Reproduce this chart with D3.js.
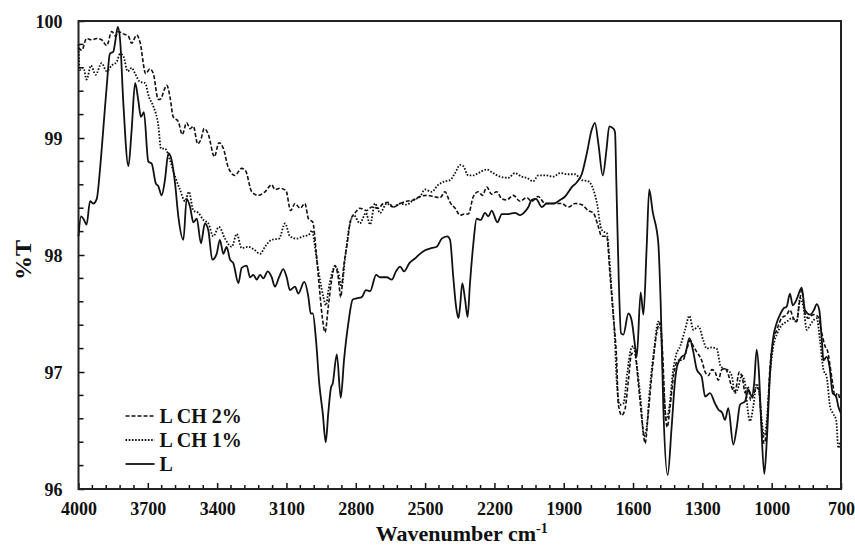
<!DOCTYPE html>
<html lang="en">
<head>
    <meta charset="UTF-8">
    <title>FTIR %T</title>
    <style>
        body { margin: 0; background: #fff; }
        svg text {
            font-family: "Liberation Serif", "Times New Roman", serif;
            font-weight: bold;
            fill: #111;
        }
        .tick-label { font-size: 18px; }
        .axis-title { font-size: 22px; }
        .legend-text { font-size: 20px; }
    </style>
</head>
<body>
    <svg id="chart" width="855" height="547"></svg>

    <script src="https://d3js.org/d3.v7.min.js"></script>
    <script>
        // Data: [wavenumber cm-1, %T]
        const seriesL = [
            [4000,98.16],[3989,98.33],[3979,98.31],[3965,98.26],[3950,98.46],[3936,98.44],[3921,98.48],[3907,98.73],
            [3893,99.07],[3878,99.44],[3864,99.72],[3849,99.74],[3842,99.81],[3830,99.95],[3820,99.84],[3806,99.30],
            [3784,98.76],[3770,99.07],[3755,99.47],[3741,99.32],[3730,99.18],[3717,99.22],[3698,98.80],[3683,98.78],
            [3665,98.61],[3655,98.59],[3640,98.51],[3626,98.64],[3611,98.87],[3597,98.81],[3582,98.61],[3568,98.33],
            [3546,98.13],[3532,98.48],[3517,98.41],[3503,98.28],[3488,98.31],[3470,98.10],[3453,98.27],[3438,98.21],
            [3421,97.96],[3402,98.01],[3388,98.13],[3373,98.01],[3359,98.07],[3344,97.96],[3330,97.93],[3308,97.76],
            [3294,97.89],[3272,97.91],[3258,97.81],[3243,97.83],[3229,97.79],[3214,97.83],[3200,97.80],[3181,97.86],
            [3164,97.81],[3150,97.73],[3132,97.81],[3114,97.88],[3099,97.81],[3085,97.70],[3063,97.73],[3049,97.67],
            [3023,97.77],[3005,97.64],[2995,97.50],[2986,97.50],[2972,97.27],[2958,96.90],[2943,96.65],[2930,96.40],
            [2919,96.65],[2907,96.87],[2900,96.90],[2882,97.15],[2865,96.78],[2851,97.10],[2832,97.42],[2813,97.62],
            [2796,97.63],[2774,97.64],[2756,97.70],[2738,97.69],[2712,97.83],[2695,97.81],[2666,97.81],[2644,97.79],
            [2626,97.86],[2608,97.90],[2591,97.86],[2568,97.93],[2544,97.97],[2522,98.01],[2500,98.04],[2471,98.06],
            [2450,98.07],[2428,98.14],[2404,98.16],[2392,98.13],[2378,97.81],[2366,97.56],[2356,97.46],[2349,97.55],
            [2339,97.76],[2327,97.62],[2316,97.47],[2306,97.75],[2291,98.10],[2277,98.31],[2259,98.30],[2241,98.36],
            [2226,98.33],[2212,98.38],[2187,98.28],[2168,98.35],[2140,98.35],[2111,98.36],[2089,98.34],[2068,98.37],
            [2053,98.41],[2039,98.47],[2020,98.48],[1995,98.41],[1974,98.44],[1945,98.44],[1916,98.47],[1894,98.50],
            [1865,98.58],[1844,98.62],[1822,98.69],[1800,98.87],[1779,99.07],[1765,99.13],[1750,98.95],[1731,98.68],
            [1715,98.90],[1703,99.10],[1685,99.08],[1678,99.05],[1672,98.60],[1662,97.80],[1652,97.33],[1642,97.32],
            [1620,97.50],[1606,97.44],[1591,97.22],[1584,97.13],[1567,97.68],[1555,97.49],[1541,98.07],[1530,98.56],
            [1515,98.37],[1491,98.11],[1480,97.56],[1469,96.70],[1450,96.12],[1433,96.53],[1418,96.93],[1408,97.06],
            [1389,97.13],[1375,97.15],[1356,97.29],[1339,97.17],[1324,97.02],[1303,96.96],[1288,96.79],[1267,96.82],
            [1245,96.73],[1231,96.68],[1214,96.65],[1202,96.59],[1188,96.69],[1166,96.38],[1151,96.53],[1137,96.72],
            [1115,96.75],[1101,96.85],[1086,96.79],[1076,96.90],[1065,97.19],[1055,96.99],[1046,96.59],[1032,96.13],
            [1021,96.42],[1007,96.99],[995,97.27],[978,97.42],[964,97.49],[950,97.54],[935,97.56],[921,97.67],
            [909,97.57],[892,97.62],[877,97.70],[870,97.72],[856,97.53],[834,97.49],[817,97.53],[805,97.58],
            [794,97.53],[783,97.27],[776,97.10],[762,97.13],[750,97.05],[736,96.82],[721,96.79],[711,96.70],[701,96.65]
        ];

        const seriesCH2 = [
            [4000,99.77],[3986,99.75],[3965,99.85],[3943,99.84],[3921,99.85],[3900,99.84],[3878,99.79],[3856,99.91],
            [3839,99.87],[3828,99.91],[3806,99.89],[3784,99.87],[3770,99.81],[3748,99.88],[3734,99.82],[3709,99.55],
            [3691,99.59],[3676,99.55],[3655,99.33],[3647,99.33],[3618,99.45],[3604,99.35],[3590,99.18],[3568,99.14],
            [3551,99.03],[3532,99.13],[3517,99.08],[3503,99.10],[3484,98.95],[3470,98.99],[3456,99.08],[3438,99.03],
            [3412,98.84],[3392,98.96],[3373,98.91],[3352,98.75],[3323,98.68],[3294,98.74],[3277,98.72],[3250,98.54],
            [3222,98.51],[3193,98.54],[3164,98.60],[3150,98.56],[3128,98.57],[3102,98.55],[3082,98.38],[3063,98.44],
            [3041,98.40],[3020,98.44],[3005,98.31],[2986,98.28],[2972,98.04],[2958,97.73],[2945,97.47],[2933,97.34],
            [2919,97.56],[2904,97.79],[2890,97.91],[2876,97.81],[2865,97.64],[2854,97.87],[2837,98.10],[2822,98.30],
            [2803,98.36],[2782,98.40],[2753,98.38],[2731,98.41],[2702,98.40],[2681,98.44],[2660,98.45],[2638,98.41],
            [2608,98.44],[2580,98.46],[2551,98.47],[2522,98.50],[2493,98.51],[2464,98.50],[2435,98.49],[2414,98.54],
            [2392,98.45],[2370,98.40],[2349,98.34],[2330,98.35],[2313,98.35],[2291,98.50],[2270,98.54],[2252,98.51],
            [2233,98.58],[2212,98.52],[2190,98.54],[2168,98.48],[2147,98.47],[2118,98.51],[2089,98.46],[2060,98.49],
            [2039,98.46],[2010,98.50],[1981,98.44],[1945,98.44],[1909,98.44],[1880,98.41],[1851,98.44],[1822,98.43],
            [1794,98.38],[1772,98.36],[1750,98.24],[1736,98.16],[1714,98.16],[1700,97.84],[1685,97.47],[1671,97.10],
            [1664,96.73],[1649,96.63],[1635,96.68],[1620,96.93],[1606,97.16],[1591,97.15],[1577,96.90],[1558,96.53],
            [1548,96.39],[1534,96.65],[1515,97.05],[1498,97.33],[1483,97.42],[1472,97.16],[1462,96.70],[1452,96.53],
            [1440,96.70],[1423,96.99],[1404,97.10],[1385,97.10],[1368,97.19],[1353,97.27],[1339,97.22],[1324,97.17],
            [1303,97.10],[1288,97.00],[1274,96.97],[1259,97.02],[1245,97.00],[1231,96.93],[1216,97.02],[1202,97.03],
            [1188,96.98],[1173,96.87],[1159,96.83],[1140,97.00],[1125,96.93],[1115,96.82],[1101,96.87],[1091,96.76],
            [1080,96.80],[1065,96.87],[1055,96.84],[1043,96.53],[1033,96.39],[1021,96.53],[1007,97.05],[993,97.27],
            [978,97.36],[957,97.46],[935,97.49],[921,97.53],[906,97.46],[892,97.43],[880,97.59],[870,97.70],
            [856,97.50],[841,97.46],[820,97.49],[798,97.47],[783,97.33],[769,97.22],[758,97.18],[747,97.05],
            [736,96.90],[726,96.79],[715,96.82],[704,96.76]
        ];

        const seriesCH1 = [
            [4000,99.80],[3995,99.58],[3979,99.60],[3965,99.50],[3946,99.62],[3926,99.54],[3900,99.64],[3878,99.57],
            [3856,99.62],[3835,99.65],[3820,99.72],[3806,99.70],[3787,99.57],[3770,99.60],[3755,99.55],[3734,99.48],
            [3712,99.47],[3695,99.35],[3676,99.27],[3654,99.10],[3643,98.91],[3626,98.91],[3604,98.81],[3582,98.67],
            [3561,98.56],[3539,98.46],[3522,98.54],[3503,98.38],[3481,98.36],[3460,98.30],[3438,98.27],[3417,98.16],
            [3392,98.24],[3366,98.14],[3337,98.07],[3315,98.18],[3294,98.06],[3265,98.07],[3236,98.04],[3214,98.01],
            [3193,98.07],[3164,98.13],[3132,98.14],[3106,98.27],[3085,98.16],[3056,98.14],[3027,98.16],[3005,98.17],
            [2988,98.21],[2981,98.13],[2969,97.96],[2955,97.79],[2940,97.64],[2929,97.57],[2919,97.69],[2904,97.84],
            [2890,97.90],[2878,97.87],[2861,97.73],[2847,97.96],[2828,98.24],[2808,98.34],[2782,98.27],[2756,98.36],
            [2738,98.26],[2717,98.44],[2695,98.36],[2666,98.44],[2638,98.41],[2608,98.44],[2580,98.43],[2551,98.47],
            [2522,98.50],[2500,98.56],[2472,98.54],[2443,98.60],[2414,98.63],[2392,98.64],[2370,98.70],[2349,98.77],
            [2335,98.76],[2313,98.68],[2291,98.68],[2270,98.70],[2233,98.73],[2205,98.70],[2176,98.67],[2140,98.66],
            [2111,98.70],[2082,98.67],[2060,98.66],[2032,98.63],[2010,98.68],[1974,98.68],[1945,98.67],[1916,98.70],
            [1880,98.69],[1851,98.69],[1822,98.64],[1794,98.63],[1772,98.56],[1755,98.43],[1740,98.24],[1729,98.20],
            [1714,98.19],[1703,97.99],[1692,97.67],[1678,97.25],[1671,96.93],[1657,96.72],[1642,96.73],[1625,96.99],
            [1610,97.19],[1599,97.22],[1584,97.06],[1567,96.76],[1553,96.45],[1541,96.53],[1527,96.87],[1509,97.19],
            [1491,97.43],[1480,97.36],[1469,96.93],[1457,96.59],[1443,96.70],[1428,96.99],[1413,97.15],[1396,97.22],
            [1375,97.36],[1356,97.48],[1339,97.36],[1317,97.39],[1296,97.27],[1281,97.20],[1259,97.21],[1238,97.20],
            [1221,97.05],[1207,97.03],[1192,97.02],[1173,96.97],[1159,96.82],[1144,96.87],[1130,96.97],[1115,96.90],
            [1105,96.70],[1094,96.58],[1080,96.70],[1065,96.90],[1055,96.84],[1043,96.59],[1033,96.45],[1021,96.59],
            [1007,96.99],[993,97.22],[976,97.33],[957,97.40],[935,97.43],[913,97.46],[892,97.43],[877,97.63],
            [863,97.56],[848,97.36],[834,97.40],[820,97.44],[805,97.46],[791,97.27],[776,97.02],[762,96.96],
            [747,96.70],[736,96.65],[721,96.59],[711,96.35],[704,96.40]
        ];

        const xTickValues = [4000, 3700, 3400, 3100, 2800, 2500, 2200, 1900, 1600, 1300, 1000, 700];
        const yTickValues = [96, 97, 98, 99, 100];
        const legendNames = ["L CH 2%", "L CH 1%", "L"];

        // Layout
        const margin = { top: 21, right: 14, bottom: 58, left: 78.5 };
        const width = 855 - margin.left - margin.right;
        const height = 547 - margin.top - margin.bottom;

        const svg = d3.select("#chart")
            .append("g")
            .attr("transform", "translate(" + margin.left + "," + margin.top + ")");

        const xScale = d3.scaleLinear().domain([4000, 700]).range([0, width]);
        const yScale = d3.scaleLinear().domain([96, 100]).range([height, 0]);

        // minor ticks (inward)
        const xMinor = d3.range(4000, 699, -60).filter(v => !xTickValues.includes(v));
        const yMinor = d3.range(96, 100.001, 0.2).map(v => +v.toFixed(1)).filter(v => !yTickValues.includes(v));

        svg.append("g").selectAll("line").data(xMinor).join("line")
            .attr("x1", d => xScale(d)).attr("x2", d => xScale(d))
            .attr("y1", height).attr("y2", height - 4)
            .attr("stroke", "#111").attr("stroke-width", 1.5);

        svg.append("g").selectAll("line").data(yMinor).join("line")
            .attr("x1", 0).attr("x2", 5)
            .attr("y1", d => yScale(d)).attr("y2", d => yScale(d))
            .attr("stroke", "#111").attr("stroke-width", 1.5);

        // Axes with major ticks pointing inside
        const xAxis = svg.append("g")
            .attr("transform", "translate(0," + height + ")")
            .call(d3.axisTop(xScale).tickValues(xTickValues).tickSize(6).tickFormat(d3.format("d")));
        xAxis.select(".domain").remove();
        xAxis.selectAll(".tick line").attr("stroke", "#111").attr("stroke-width", 1.5);
        xAxis.selectAll(".tick text")
            .attr("class", "tick-label")
            .attr("y", 26)
            .attr("dy", 0)
            .attr("fill", "#111");

        const yAxis = svg.append("g")
            .call(d3.axisRight(yScale).tickValues(yTickValues).tickSize(6).tickFormat(d3.format("d")));
        yAxis.select(".domain").remove();
        yAxis.selectAll(".tick line").attr("stroke", "#111").attr("stroke-width", 1.5);
        yAxis.selectAll(".tick text")
            .attr("class", "tick-label")
            .attr("x", -16)
            .attr("text-anchor", "end")
            .attr("dy", "0.35em")
            .attr("fill", "#111");
        yAxis.attr("font-family", null).attr("font-size", null);
        xAxis.attr("font-family", null).attr("font-size", null);

        // Frame
        svg.append("rect")
            .attr("x", 0).attr("y", 0)
            .attr("width", width).attr("height", height)
            .attr("fill", "none")
            .attr("stroke", "#222")
            .attr("stroke-width", 2);

        // Lines
        const line = d3.line()
            .x(d => xScale(d[0]))
            .y(d => yScale(d[1]))
            .curve(d3.curveMonotoneX);

        const styles = [
            { data: seriesCH2, dash: "4,2", w: 1.6 },
            { data: seriesCH1, dash: "1.6,1.6", w: 1.8 },
            { data: seriesL, dash: null, w: 1.8 }
        ];

        styles.forEach(s => {
            svg.append("path")
                .datum(s.data)
                .attr("fill", "none")
                .attr("stroke", "#111")
                .attr("stroke-width", s.w)
                .attr("stroke-dasharray", s.dash)
                .attr("stroke-linejoin", "round")
                .attr("d", line);
        });

        // Legend
        const legend = svg.append("g").attr("transform", "translate(47,395)");
        legendNames.forEach((name, i) => {
            const g = legend.append("g").attr("transform", "translate(0," + (i * 24) + ")");
            g.append("line")
                .attr("x1", 0).attr("x2", 29)
                .attr("y1", 0).attr("y2", 0)
                .attr("stroke", "#111")
                .attr("stroke-width", styles[i].w)
                .attr("stroke-dasharray", styles[i].dash);
            g.append("text")
                .attr("class", "legend-text")
                .attr("x", 34)
                .attr("y", 7)
                .text(name);
        });

        // Axis titles
        const xt = svg.append("text")
            .attr("class", "axis-title")
            .attr("text-anchor", "middle")
            .attr("x", width / 2 + 2)
            .attr("y", height + 52);
        xt.append("tspan").text("Wavenumber cm");
        xt.append("tspan").attr("dy", -8).attr("font-size", 14).text("-1");

        svg.append("text")
            .attr("class", "axis-title")
            .attr("text-anchor", "middle")
            .attr("transform", "rotate(-90)")
            .attr("x", -height / 2 - 5)
            .attr("y", -48)
            .style("font-size", "24px")
            .text("%T");
    </script>
</body>
</html>
